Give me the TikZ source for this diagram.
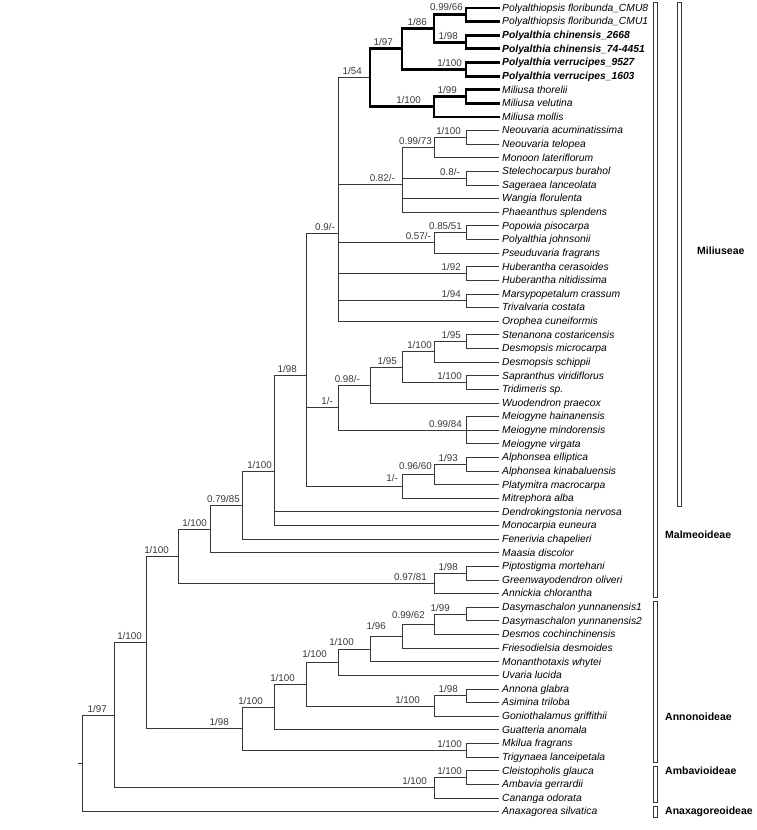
\documentclass[tikz,border=0pt]{standalone}
\usepackage{fontspec}
\setmainfont{Liberation Sans}
\usepackage{tikz}
\definecolor{TreeGray}{RGB}{55,55,55}

\begin{document}
\begin{tikzpicture}[x=1pt, y=-13.62pt,
      tip/.style={anchor=west, inner sep=3pt, text height=7.4pt, text depth=0.8pt,
                  font=\fontsize{10.3}{12}\selectfont\itshape},
      supp/.style={anchor=base east, inner sep=0pt, text=TreeGray,
                   font=\fontsize{9.8}{11}\selectfont},
      br/.style={line width=1pt, TreeGray},
      thk/.style={line width=2.9pt, black, line cap=rect},
      bar/.style={draw=TreeGray, line width=0.9pt, fill=white},
      grp/.style={anchor=west, inner sep=0pt, font=\fontsize{10.5}{12}\selectfont\bfseries}
    ]
    \useasboundingbox (0,-0.5874) rectangle (756,60.35);

    % taxa
    \foreach \sp [count=\i from 0] in {
        Polyalthiopsis floribunda\_CMU8, Polyalthiopsis floribunda\_CMU1,
        \textbf{Polyalthia chinensis\_2668}, \textbf{Polyalthia chinensis\_74-4451},
        \textbf{Polyalthia verrucipes\_9527}, \textbf{Polyalthia verrucipes\_1603},
        Miliusa thorelii, Miliusa velutina, Miliusa mollis,
        Neouvaria acuminatissima, Neouvaria telopea, Monoon lateriflorum,
        Stelechocarpus burahol, Sageraea lanceolata, Wangia florulenta,
        Phaeanthus splendens, Popowia pisocarpa, Polyalthia johnsonii,
        Pseuduvaria fragrans, Huberantha cerasoides, Huberantha nitidissima,
        Marsypopetalum crassum, Trivalvaria costata, Orophea cuneiformis,
        Stenanona costaricensis, Desmopsis microcarpa, Desmopsis schippii,
        Sapranthus viridiflorus, Tridimeris sp., Wuodendron praecox,
        Meiogyne hainanensis, Meiogyne mindorensis, Meiogyne virgata,
        Alphonsea elliptica, Alphonsea kinabaluensis, Platymitra macrocarpa,
        Mitrephora alba, Dendrokingstonia nervosa, Monocarpia euneura,
        Fenerivia chapelieri, Maasia discolor, Piptostigma mortehani,
        Greenwayodendron oliveri, Annickia chlorantha,
        Dasymaschalon yunnanensis1, Dasymaschalon yunnanensis2,
        Desmos cochinchinensis, Friesodielsia desmoides, Monanthotaxis whytei,
        Uvaria lucida, Annona glabra, Asimina triloba, Goniothalamus griffithii,
        Guatteria anomala, Mkilua fragrans, Trigynaea lanceipetala,
        Cleistopholis glauca, Ambavia gerrardii, Cananga odorata,
        Anaxagorea silvatica}
      \node[tip] (t\i) at (499,\i) {\sp};

    % Miliuseae, upper part
    \coordinate (pfl) at (466,0.5);
    \coordinate (pch) at (466,2.5);
    \coordinate (pfc) at (434,1.5);
    \coordinate (pve) at (466,4.5);
    \coordinate (pol) at (402,3);
    \coordinate (mtv) at (466,6.5);
    \coordinate (mil) at (434,7.25);
    \coordinate (plm) at (370,5.125);
    \coordinate (neo) at (466,9.5);
    \coordinate (nmo) at (434,10.25);
    \coordinate (sts) at (466,12.5);
    \coordinate (nst) at (402,12.9375);
    \coordinate (pop) at (466,16.5);
    \coordinate (pps) at (434,17.25);
    \coordinate (hub) at (466,19.5);
    \coordinate (mar) at (466,21.5);
    \coordinate (mlu) at (338,16.5521);
    % Miliuseae, lower part
    \coordinate (ste) at (466,24.5);
    \coordinate (sdm) at (434,25.25);
    \coordinate (sap) at (466,27.5);
    \coordinate (sds) at (402,26.375);
    \coordinate (wuo) at (370,27.6875);
    \coordinate (mei) at (466,31);
    \coordinate (wme) at (338,29.34375);
    \coordinate (alp) at (466,33.5);
    \coordinate (apl) at (434,34.25);
    \coordinate (mit) at (402,35.125);
    \coordinate (mln) at (306,27.0069);
    % rest of Malmeoideae
    \coordinate (den) at (274,34.0023);
    \coordinate (fen) at (242,36.5012);
    \coordinate (maa) at (210,38.2506);
    \coordinate (pip) at (466,41.5);
    \coordinate (pga) at (434,42.25);
    \coordinate (mal) at (178,40.2503);
    % Annonoideae
    \coordinate (das) at (466,44.5);
    \coordinate (dde) at (434,45.25);
    \coordinate (fri) at (402,46.125);
    \coordinate (mon) at (370,47.0625);
    \coordinate (uva) at (338,48.03125);
    \coordinate (ann) at (466,50.5);
    \coordinate (gon) at (434,51.25);
    \coordinate (uvg) at (306,49.6406);
    \coordinate (gua) at (274,51.3203);
    \coordinate (mkt) at (466,54.5);
    \coordinate (ano) at (242,52.9102);
    \coordinate (ma)  at (146,46.5802);
    % Ambavioideae and root
    \coordinate (cle) at (466,56.5);
    \coordinate (amb) at (434,57.25);
    \coordinate (core) at (114,51.9151);
    \coordinate (root) at (82,55.4576);
    \coordinate (stub) at (78,55.4576);

    % branches
    \foreach \p/\c in {neo/t9, neo/t10, nmo/neo, nmo/t11, sts/t12, sts/t13,
        nst/nmo, nst/sts, nst/t14, nst/t15, pop/t16, pop/t17, pps/pop, pps/t18,
        hub/t19, hub/t20, mar/t21, mar/t22, mlu/plm, mlu/nst, mlu/pps, mlu/hub,
        mlu/mar, mlu/t23, ste/t24, ste/t25, sdm/ste, sdm/t26, sap/t27, sap/t28,
        sds/sdm, sds/sap, wuo/sds, wuo/t29, mei/t30, mei/t31, mei/t32, wme/wuo,
        wme/mei, alp/t33, alp/t34, apl/alp, apl/t35, mit/apl, mit/t36,
        mln/mlu, mln/wme, mln/mit, den/mln, den/t37, den/t38, fen/den, fen/t39,
        maa/fen, maa/t40, pip/t41, pip/t42, pga/pip, pga/t43, mal/maa, mal/pga,
        das/t44, das/t45, dde/das, dde/t46, fri/dde, fri/t47, mon/fri, mon/t48,
        uva/mon, uva/t49, ann/t50, ann/t51, gon/ann, gon/t52, uvg/uva, uvg/gon,
        gua/uvg, gua/t53, mkt/t54, mkt/t55, ano/gua, ano/mkt, ma/mal, ma/ano,
        cle/t56, cle/t57, amb/cle, amb/t58, core/ma, core/amb, root/core, root/t59}
      \draw[br] (\p) |- (\c);
    \draw[br] (root) -- (stub);

    % bold clade
    \foreach \p/\c in {pfl/t0, pfl/t1, pch/t2, pch/t3, pfc/pfl, pfc/pch,
        pve/t4, pve/t5, pol/pfc, pol/pve, mtv/t6, mtv/t7, mil/mtv, mil/t8,
        plm/pol, plm/mil}
      \draw[thk] (\p) |- (\c);

    % support values (PP/BS)
    \foreach \n/\t/\g/\v in {pfl/{0.99/66}/3/1, pch/{1/98}/8/0, pfc/{1/86}/7/0,
        pve/{1/100}/4/0, pol/{1/97}/9/0, mtv/{1/99}/9/0, mil/{1/100}/13/0,
        plm/{1/54}/8/0, neo/{1/100}/5/0, nmo/{0.99/73}/2/0, sts/{0.8/-}/6/0,
        nst/{0.82/-}/7/0, pop/{0.85/51}/4/0, pps/{0.57/-}/3/0, hub/{1/92}/5/0,
        mar/{1/94}/5/0, mlu/{0.9/-}/3/0, ste/{1/95}/5/0, sdm/{1/100}/2/0,
        sap/{1/100}/4/0, sds/{1/95}/5/0, wuo/{0.98/-}/10/0, mei/{0.99/84}/4/0,
        wme/{1/-}/5/0, alp/{1/93}/8/0, apl/{0.96/60}/2/2, mit/{1/-}/4/2,
        mln/{1/98}/9/0, den/{1/100}/2/0, fen/{0.79/85}/2/0, maa/{1/100}/3/0,
        pip/{1/98}/8/0, pga/{0.97/81}/7/0, mal/{1/100}/9/0, das/{1/99}/16/0,
        dde/{0.99/62}/9/3, fri/{1/96}/16/4, mon/{1/100}/16/1, uva/{1/100}/11/2,
        ann/{1/98}/8/0, gon/{1/100}/14/0, uvg/{1/100}/11/0, gua/{1/100}/11/0,
        mkt/{1/100}/4/0, ano/{1/98}/13/0, ma/{1/100}/4/0, cle/{1/100}/4/0,
        amb/{1/100}/7/0, core/{1/97}/7/0}
      \node[supp, xshift=-\g, yshift=3+\v] (l\n) at (\n) {\t};

    % subfamilies and tribe
    \draw[bar] (677,-0.44) rectangle (681,36.6);
    \draw[bar] (653,-0.44) rectangle (657,43.3);
    \draw[bar] (653,43.6)  rectangle (657,55.36);
    \draw[bar] (653,55.65) rectangle (657,58.3);
    \draw[bar] (653,58.6)  rectangle (657,59.4);
    \node[grp] (miliuseae) at (697,17.84) {Miliuseae};
    \node[grp] (malmeo)    at (665,38.7)  {Malmeoideae};
    \node[grp] (annono)    at (665,52.0)  {Annonoideae};
    \node[grp] (ambavio)   at (665,56.0)  {Ambavioideae};
    \node[grp] (anaxago)   at (665,59.0)  {Anaxagoreoideae};
  \end{tikzpicture}
\end{document}
